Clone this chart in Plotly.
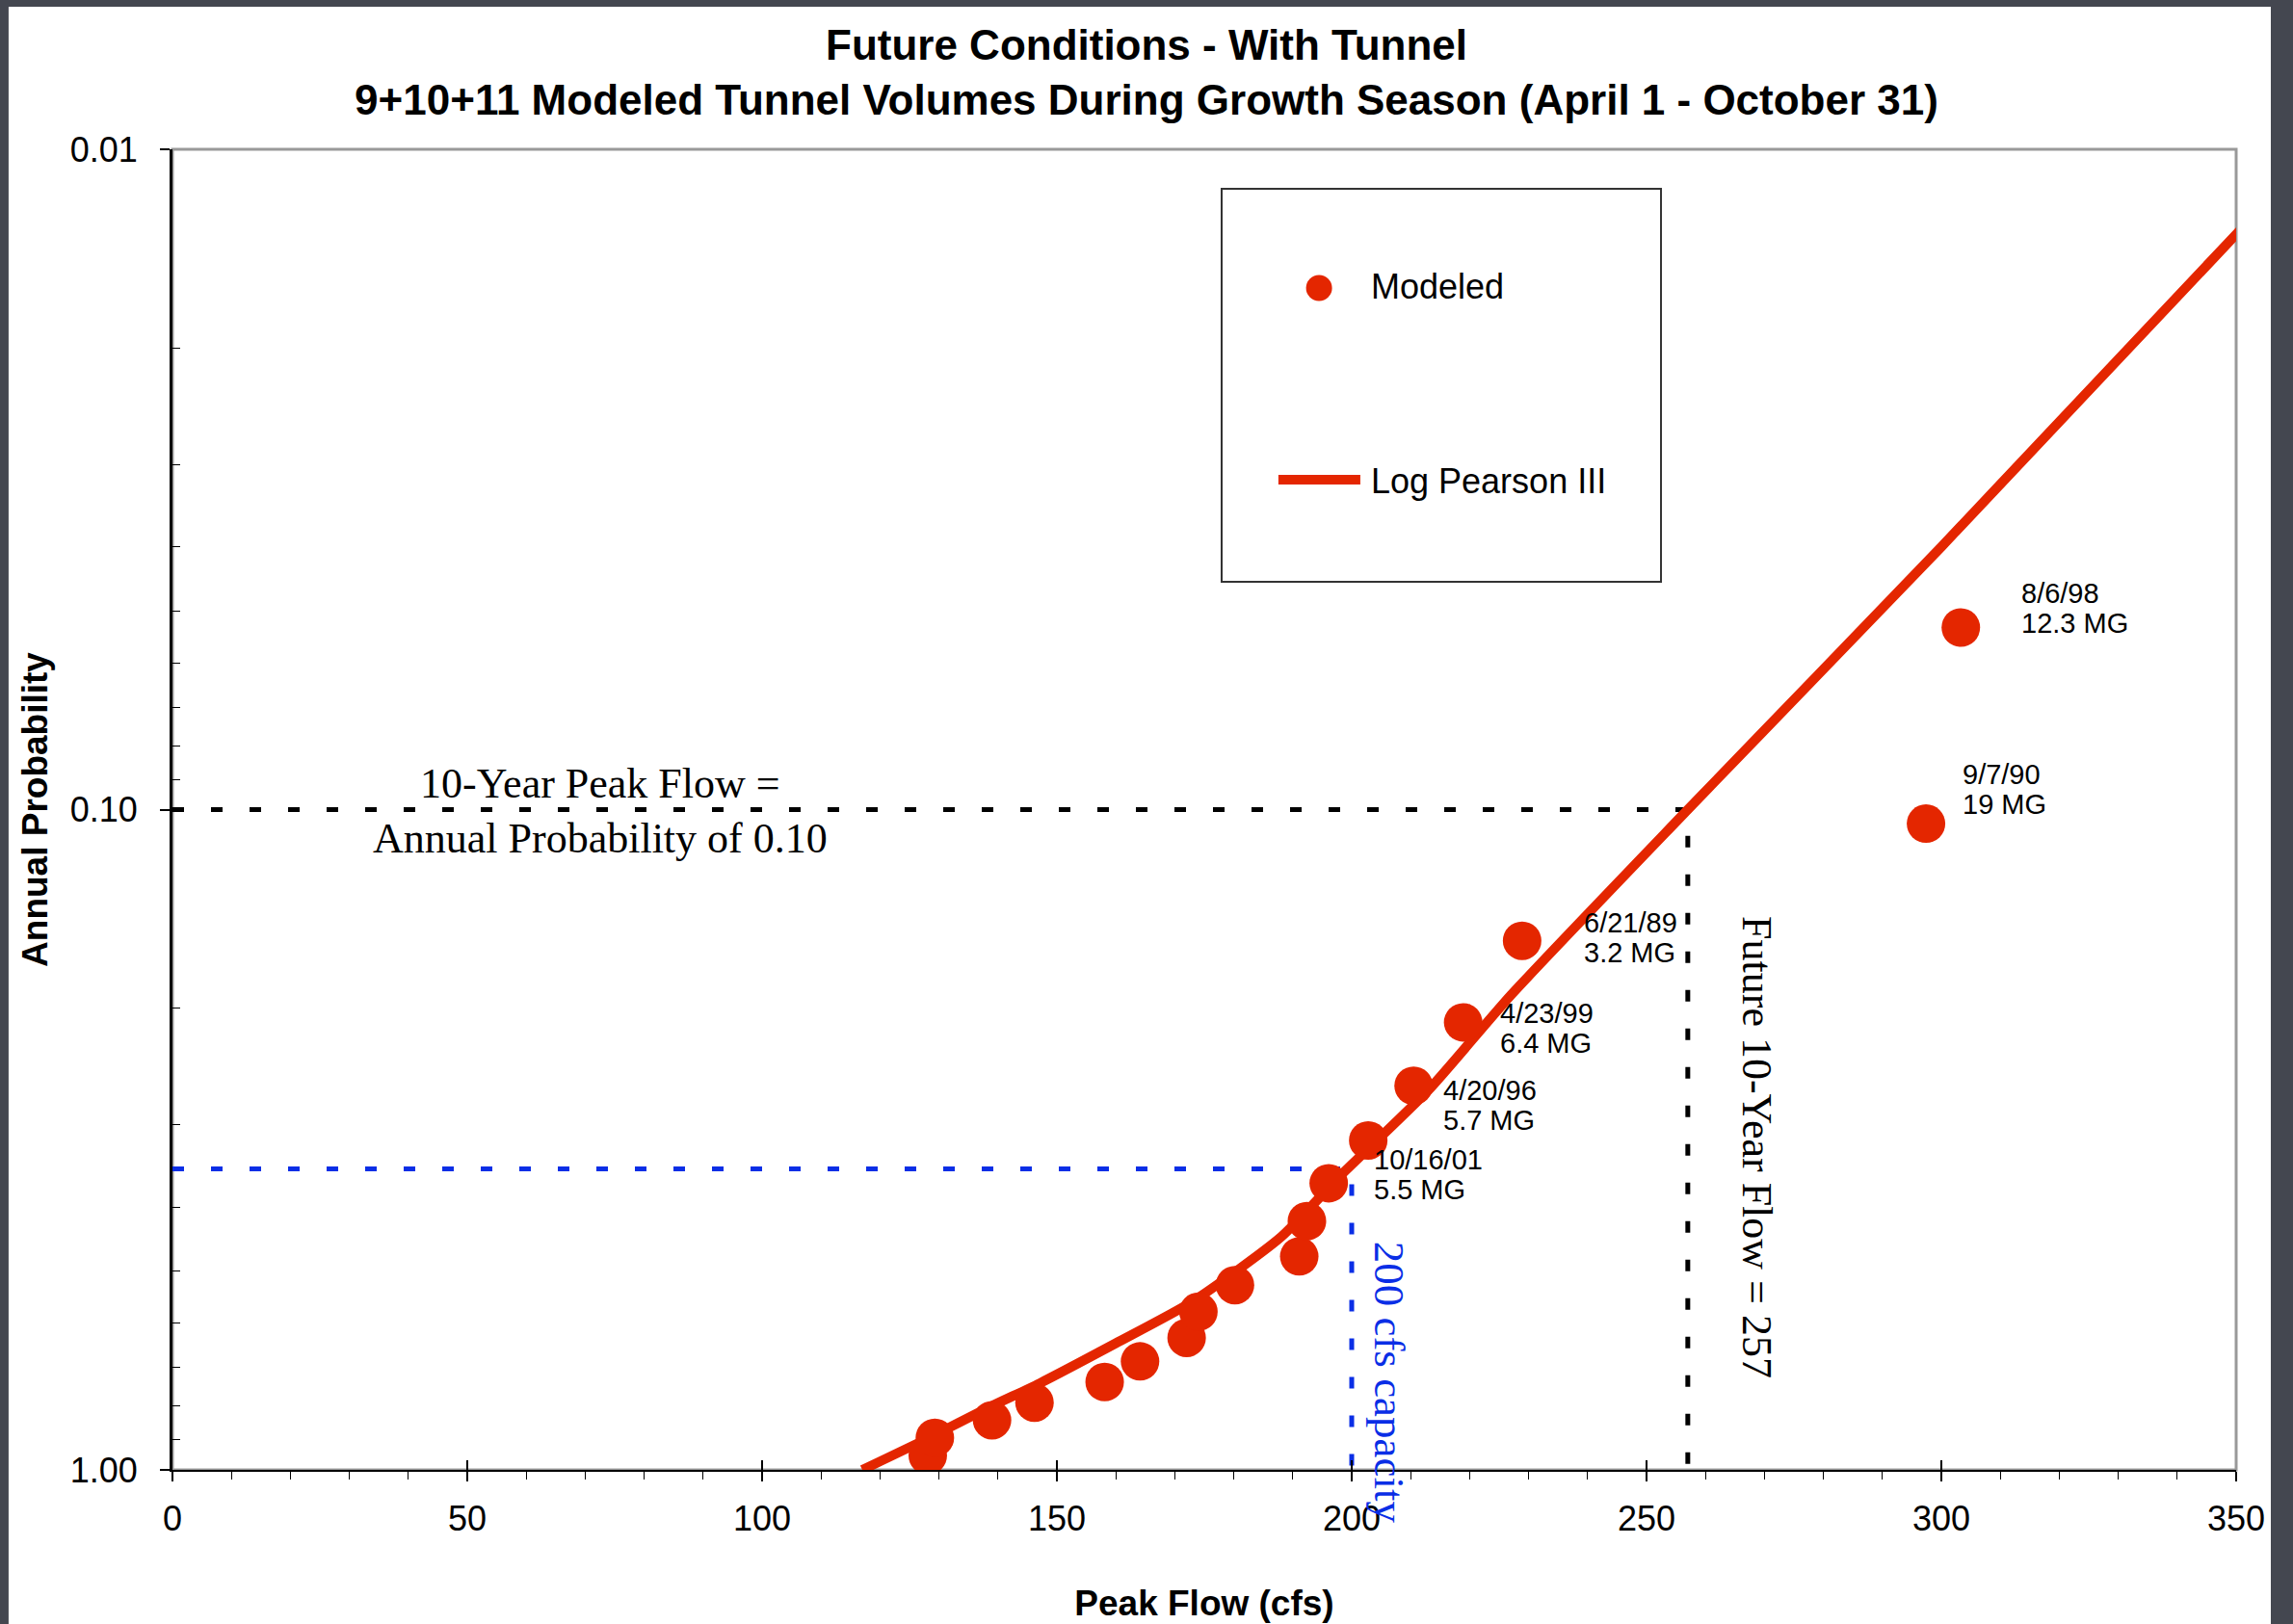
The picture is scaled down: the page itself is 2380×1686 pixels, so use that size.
import math
import plotly.graph_objects as go

# Modeled peak flows (cfs) and their annual exceedance probabilities
modeled_flow = [128.1, 129.3, 139.0, 146.2, 158.1, 164.1, 172.0, 174.0, 180.2,
                191.1, 192.4, 196.1, 202.8, 210.5, 218.9, 228.9, 297.4, 303.3]
modeled_prob = [0.951, 0.894, 0.841, 0.791, 0.736, 0.685, 0.631, 0.576, 0.525,
                0.475, 0.420, 0.368, 0.317, 0.262, 0.210, 0.158, 0.105, 0.053]

# Log Pearson III fitted frequency curve
lp3_flow = [117.0, 128.0, 139.0, 147.0, 160.0, 173.0, 188.0, 198.0, 213.0,
            227.0, 257.0, 300.0, 353.0]
lp3_prob = [1.00, 0.897, 0.800, 0.740, 0.643, 0.556, 0.444, 0.359, 0.266,
            0.191, 0.100, 0.040, 0.0126]

# Reference levels
ten_year_prob = 0.10
ten_year_flow = 257
capacity_flow = 200
capacity_prob = 0.35

# Labelled events and the pixel offset of each label from its point
event_flow = [303.3, 297.4, 228.9, 218.9, 210.5, 196.1]
event_prob = [0.053, 0.105, 0.158, 0.210, 0.262, 0.368]
event_date = ["8/6/98", "9/7/90", "6/21/89", "4/23/99", "4/20/96", "10/16/01"]
event_volume = ["12.3 MG", "19 MG", "3.2 MG", "6.4 MG", "5.7 MG", "5.5 MG"]
event_dx = [61, 36, 62, 36, 29, 45]
event_dy = [20, 36, 3, -6, -20, 9]

x_ticks = [0, 50, 100, 150, 200, 250, 300, 350]
y_ticks = [0.01, 0.1, 1.0]
y_ticktext = ["0.01", "0.10", "1.00"]
y_minor = [m * 10.0 ** e for e in (-2, -1) for m in range(2, 10)]

RED = "#e42600"
BLUE = "#0a2ee6"
SANS = "Arial, Liberation Sans, sans-serif"
SERIF = "Times New Roman, Liberation Serif, serif"

fig = go.Figure()

# Dashed reference lines
fig.add_trace(go.Scatter(
    x=[0, ten_year_flow, ten_year_flow], y=[ten_year_prob, ten_year_prob, 1.0],
    mode="lines", line=dict(color="black", width=5, dash="12px,28px"),
    hoverinfo="skip", showlegend=False))
fig.add_trace(go.Scatter(
    x=[0, capacity_flow, capacity_flow], y=[capacity_prob, capacity_prob, 1.0],
    mode="lines", line=dict(color=BLUE, width=5, dash="12px,28px"),
    hoverinfo="skip", showlegend=False))

# Fitted curve and modeled events
fig.add_trace(go.Scatter(
    x=lp3_flow, y=lp3_prob, mode="lines", name="Log Pearson III",
    line=dict(color=RED, width=10, shape="spline", smoothing=0.6),
    showlegend=False))
fig.add_trace(go.Scatter(
    x=modeled_flow, y=modeled_prob, mode="markers", name="Modeled",
    marker=dict(color=RED, size=40, line=dict(width=0)),
    showlegend=False))

# Overlay axis carrying the inward half of the major x ticks
fig.add_trace(go.Scatter(x=[None], y=[None], xaxis="x2", yaxis="y",
                         showlegend=False, hoverinfo="skip"))

annotations = []
for f, p, d, v, dx, dy in zip(event_flow, event_prob, event_date, event_volume,
                              event_dx, event_dy):
    for txt, off in ((d, 15.5), (v, -15.5)):
        annotations.append(dict(
            x=f, y=math.log10(p), xref="x", yref="y", text=txt,
            showarrow=False, xanchor="left", yanchor="middle",
            xshift=dx, yshift=dy + off,
            font=dict(family=SANS, size=29, color="black")))

annotations += [
    dict(x=72.6, y=math.log10(ten_year_prob), xref="x", yref="y",
         text="10-Year Peak Flow =<br>Annual Probability of 0.10",
         showarrow=False, xanchor="center", yanchor="middle", yshift=-1,
         font=dict(family=SERIF, size=44, color="black")),
    dict(x=268.7, y=-0.488, xref="x", yref="y",
         text="Future 10-Year Flow = 257", textangle=90,
         showarrow=False, xanchor="center", yanchor="middle",
         font=dict(family=SERIF, size=44, color="black")),
    dict(x=206.4, y=-0.133, xref="x", yref="y",
         text="200 cfs capacity", textangle=90,
         showarrow=False, xanchor="center", yanchor="middle",
         font=dict(family=SERIF, size=45, color=BLUE)),
    # legend entries
    dict(x=0.5798, y=0.8957, xref="paper", yref="paper", text="Modeled",
         showarrow=False, xanchor="left", yanchor="middle",
         font=dict(family=SANS, size=36, color="black")),
    dict(x=0.5798, y=0.7484, xref="paper", yref="paper", text="Log Pearson III",
         showarrow=False, xanchor="left", yanchor="middle",
         font=dict(family=SANS, size=36, color="black")),
]

shapes = [
    # white page over dark backdrop
    dict(type="rect", xref="paper", yref="paper", x0=-0.0794, x1=1.0168,
         y0=-0.14, y1=1.108, fillcolor="white", line=dict(width=0), layer="below"),
    # gray plot frame
    dict(type="rect", xref="paper", yref="paper", x0=0, x1=1, y0=0, y1=1,
         line=dict(color="#999999", width=3), layer="below"),
    # legend box
    dict(type="rect", xref="paper", yref="paper", x0=0.5084, x1=0.7213,
         y0=0.6725, y1=0.9701, fillcolor="white",
         line=dict(color="#333333", width=2), layer="above"),
    dict(type="line", xref="paper", yref="paper", x0=0.5359, x1=0.5756,
         y0=0.7498, y1=0.7498, line=dict(color=RED, width=10), layer="above"),
    dict(type="circle", xref="paper", yref="paper", xsizemode="pixel",
         ysizemode="pixel", xanchor=0.5556, yanchor=0.8950,
         x0=-13.5, x1=13.5, y0=-13.5, y1=13.5, fillcolor=RED,
         line=dict(width=0), layer="above"),
]

fig.update_layout(
    width=2380, height=1686,
    margin=dict(l=179, r=59, t=155, b=160),
    paper_bgcolor="#444750",
    plot_bgcolor="rgba(0,0,0,0)",
    title=dict(
        text="Future Conditions - With Tunnel<br>"
             "9+10+11 Modeled Tunnel Volumes During Growth Season (April 1 - October 31)",
        x=0.5, xref="container", xanchor="center",
        y=1 - 62 / 1686, yref="container", yanchor="middle",
        font=dict(family=SANS, size=44, color="black", weight="bold")),
    xaxis=dict(
        range=[0, 350], tickvals=x_ticks, showgrid=False, zeroline=False,
        automargin=False,
        showline=True, linecolor="black", linewidth=2,
        ticks="outside", ticklen=10, tickwidth=2, tickcolor="black",
        minor=dict(dtick=10, tick0=0, ticks="outside", ticklen=8,
                   tickwidth=1, tickcolor="black", showgrid=False),
        tickfont=dict(family=SANS, size=36, color="black"),
        ticklabelstandoff=8,
        title=dict(text="Peak Flow (cfs)", standoff=55,
                   font=dict(family=SANS, size=37, color="black", weight="bold"))),
    xaxis2=dict(
        overlaying="x", range=[0, 350], tickvals=x_ticks, showticklabels=False,
        showgrid=False, zeroline=False, showline=False, automargin=False,
        ticks="inside", ticklen=10, tickwidth=2, tickcolor="black"),
    yaxis=dict(
        type="log", range=[0, -2], tickvals=y_ticks, ticktext=y_ticktext,
        showgrid=False, zeroline=False, automargin=False,
        showline=True, linecolor="black", linewidth=3,
        ticks="outside", ticklen=10, tickwidth=2, tickcolor="black",
        minor=dict(tickvals=y_minor, ticks="inside", ticklen=8,
                   tickwidth=1, tickcolor="black", showgrid=False),
        tickfont=dict(family=SANS, size=36, color="black"),
        ticklabelstandoff=16,
        title=dict(text="Annual Probability", standoff=12,
                   font=dict(family=SANS, size=37, color="black", weight="bold"))),
    annotations=annotations,
    shapes=shapes,
    showlegend=False,
)

fig.write_html("out.html")
